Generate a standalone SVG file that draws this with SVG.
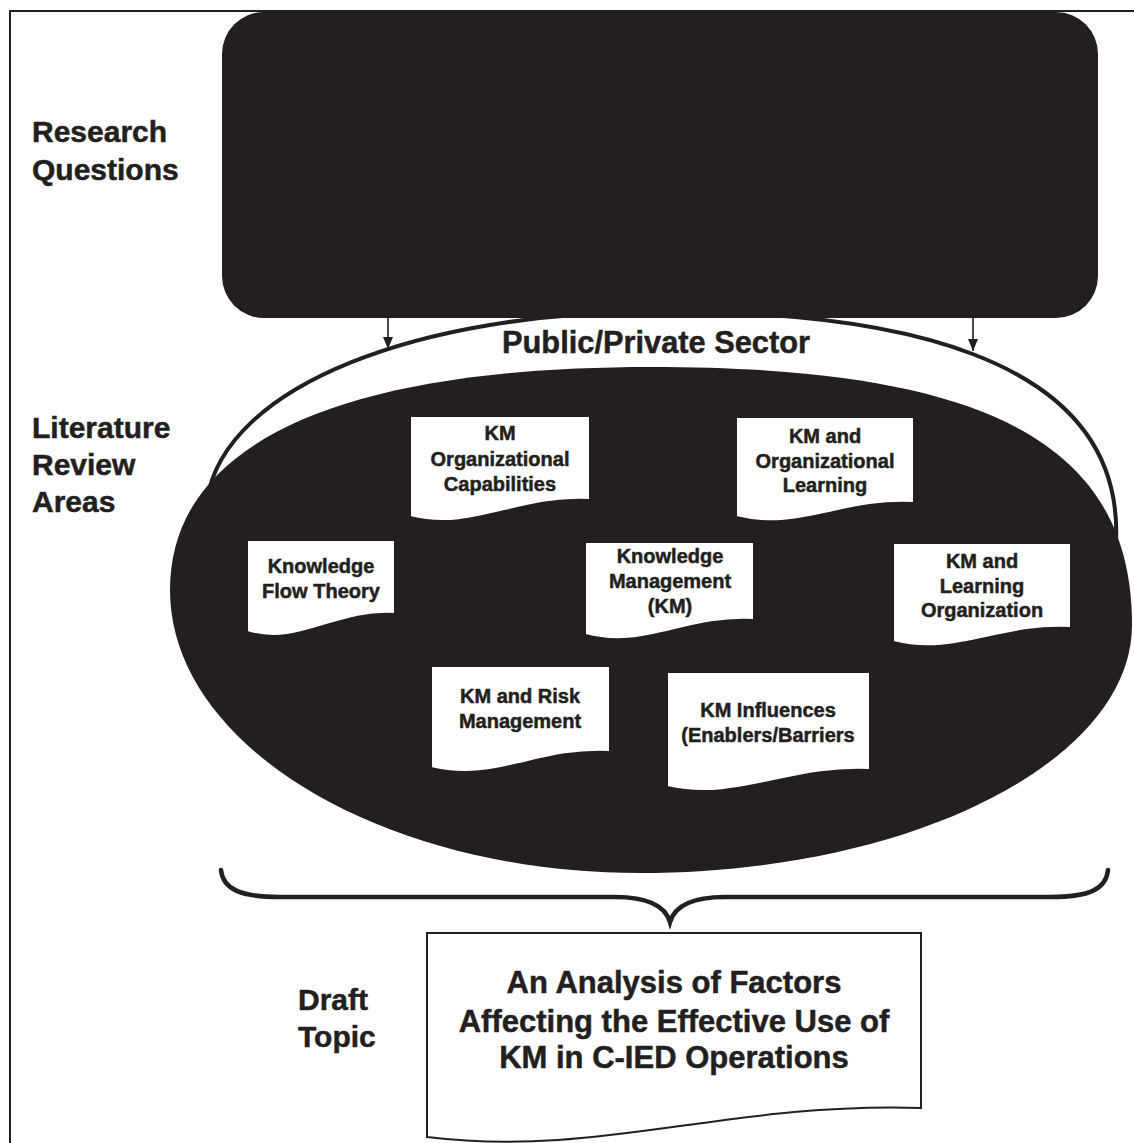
<svg xmlns="http://www.w3.org/2000/svg" width="1134" height="1143" viewBox="0 0 1134 1143">
  <defs>
    <style>
      .lbl { font-family: "Liberation Sans", Arial, Helvetica, sans-serif; font-weight: bold; fill: #231f20; stroke: #231f20; stroke-width: 0.5; }
      .side { font-size: 30px; }
      .doc-t { font-size: 20px; text-anchor: middle; }
      .big-t { font-size: 31px; text-anchor: middle; }
      .doc { fill: #ffffff; stroke: #231f20; stroke-width: 2; }
      .ink { fill: #231f20; }
      .conn { fill: none; stroke: #231f20; stroke-width: 1.6; }
    </style>
    <marker id="arrowhead" viewBox="0 0 12 10" refX="12" refY="5" markerWidth="12" markerHeight="10" markerUnits="userSpaceOnUse" orient="auto">
      <path d="M0,0 L12,5 L0,10 Z" fill="#231f20"/>
    </marker>
  </defs>

  <rect x="0" y="0" width="1134" height="1143" fill="#ffffff"/>

  <!-- page frame: top and left rules -->
  <g id="frame" fill="none" stroke="#231f20" stroke-width="2">
    <line x1="10" y1="11" x2="1134" y2="11"/>
    <line x1="10" y1="10" x2="10" y2="1143"/>
  </g>

  <!-- row labels -->
  <g id="label-research">
    <text class="lbl side" x="32" y="142">Research</text>
    <text class="lbl side" x="32" y="180">Questions</text>
  </g>
  <g id="label-literature">
    <text class="lbl side" x="32" y="438">Literature</text>
    <text class="lbl side" x="32" y="475">Review</text>
    <text class="lbl side" x="32" y="512">Areas</text>
  </g>
  <g id="label-draft">
    <text class="lbl side" x="298" y="1010">Draft</text>
    <text class="lbl side" x="298" y="1047">Topic</text>
  </g>

  <!-- sector band: upper arc drawn above the review area -->
  <g id="sector">
    <path d="M207,500 C225,385 420,312 655,312 C880,310 1125,350 1116,542" fill="none" stroke="#231f20" stroke-width="4"/>
    <text class="lbl" x="656" y="353" font-size="32" text-anchor="middle" textLength="308" lengthAdjust="spacingAndGlyphs">Public/Private Sector</text>
  </g>

  <!-- research questions block -->
  <g id="research-questions">
    <rect class="ink" x="222" y="12" width="876" height="306" rx="42" ry="42"/>
  </g>

  <!-- literature review area -->
  <g id="review-area">
    <path class="ink" d="M170,590 C170,444 338,367 651,367 C988,367 1132,444 1132,625 C1132,761 911,873 640,873 C382,873 170,746 170,590 Z"/>
  </g>

  <g id="connectors">
    <line class="conn" x1="388" y1="318" x2="388" y2="349" marker-end="url(#arrowhead)"/>
    <line class="conn" x1="973" y1="318" x2="973" y2="351" marker-end="url(#arrowhead)"/>
    <path d="M221,870 C223,889 240,897 280,897 L615,897 C646,897 665,905 670,922 C675,905 694,897 725,897 L1050,897 C1090,897 1106,889 1108,870" fill="none" stroke="#231f20" stroke-width="4.5" stroke-linecap="round"/>
  </g>

  <!-- review topics -->
  <g id="km-capabilities">
    <path class="doc" d="M410,416 H590 V500 C518,496 473,533 410,517 Z"/>
    <text class="lbl doc-t" x="500" y="440">KM</text>
    <text class="lbl doc-t" x="500" y="466">Organizational</text>
    <text class="lbl doc-t" x="500" y="491">Capabilities</text>
  </g>

  <g id="km-org-learning">
    <path class="doc" d="M736,417 H914 V503 C843,499 798,533 736,517 Z"/>
    <text class="lbl doc-t" x="825" y="443">KM and</text>
    <text class="lbl doc-t" x="825" y="468">Organizational</text>
    <text class="lbl doc-t" x="825" y="492">Learning</text>
  </g>

  <g id="knowledge-flow">
    <path class="doc" d="M247,540 H395 V614 C336,610 299,648 247,632 Z"/>
    <text class="lbl doc-t" x="321" y="573">Knowledge</text>
    <text class="lbl doc-t" x="321" y="598">Flow Theory</text>
  </g>

  <g id="knowledge-management">
    <path class="doc" d="M585,542 H754 V620 C686,616 644,651 585,635 Z"/>
    <text class="lbl doc-t" x="670" y="563">Knowledge</text>
    <text class="lbl doc-t" x="670" y="588">Management</text>
    <text class="lbl doc-t" x="670" y="613">(KM)</text>
  </g>

  <g id="km-learning-org">
    <path class="doc" d="M893,543 H1071 V628 C1000,624 955,658 893,642 Z"/>
    <text class="lbl doc-t" x="982" y="568">KM and</text>
    <text class="lbl doc-t" x="982" y="593">Learning</text>
    <text class="lbl doc-t" x="982" y="617">Organization</text>
  </g>

  <g id="km-risk">
    <path class="doc" d="M431,666 H610 V752 C538,748 494,784 431,768 Z"/>
    <text class="lbl doc-t" x="520" y="703">KM and Risk</text>
    <text class="lbl doc-t" x="520" y="728">Management</text>
  </g>

  <g id="km-influences">
    <path class="doc" d="M667,672 H870 V770 C789,766 738,803 667,787 Z"/>
    <text class="lbl doc-t" x="768" y="717">KM Influences</text>
    <text class="lbl doc-t" x="768" y="742">(Enablers/Barriers</text>
  </g>

  <!-- resulting topic -->
  <g id="draft-topic">
    <path class="doc" d="M427,933 H921 V1108 C723,1102 600,1158 427,1137 Z"/>
    <text class="lbl big-t" x="674" y="993">An Analysis of Factors</text>
    <text class="lbl big-t" x="674" y="1032">Affecting the Effective Use of</text>
    <text class="lbl big-t" x="674" y="1068">KM in C-IED Operations</text>
  </g>
</svg>
